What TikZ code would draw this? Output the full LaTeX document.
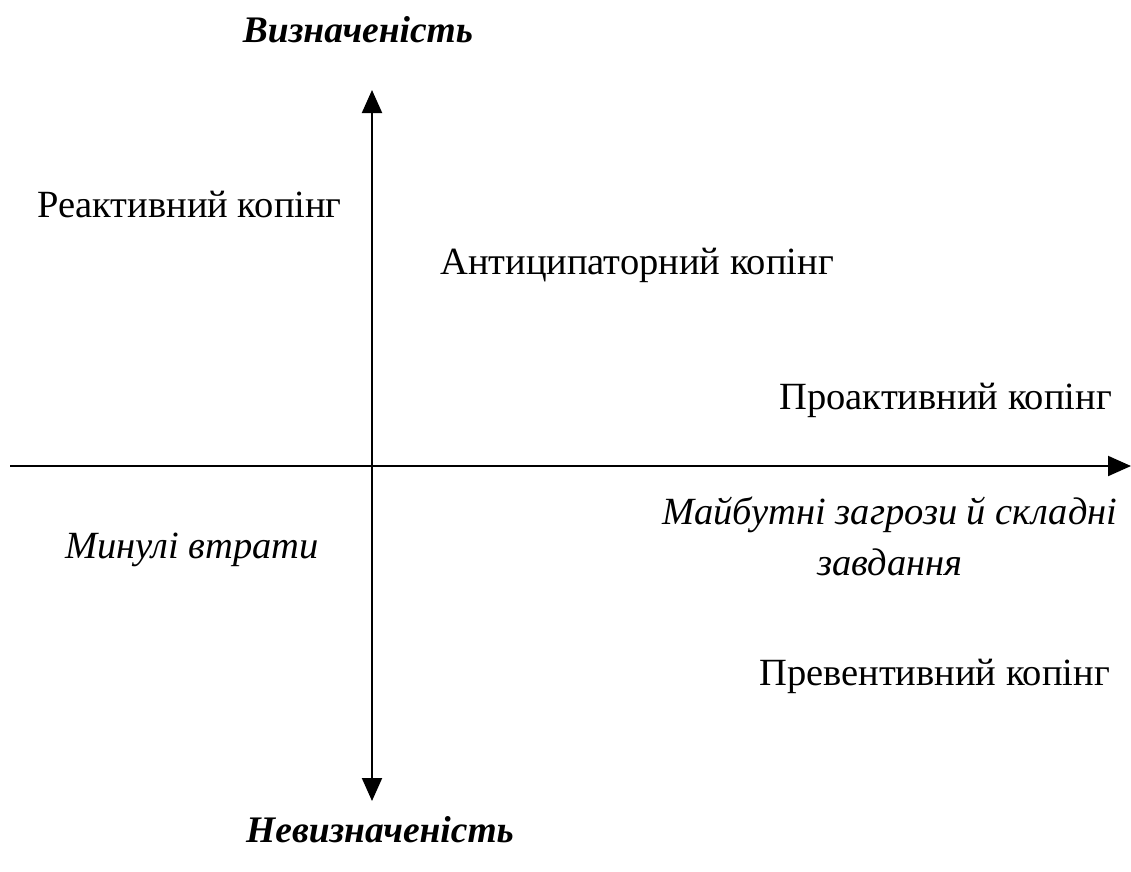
\documentclass[tikz,border=0pt]{standalone}
\usepackage{fontspec}
\setmainfont{Liberation Serif}
\usetikzlibrary{arrows.meta}
\begin{document}
\begin{tikzpicture}[x=1pt,y=-1pt,
  axis/.style={line width=2pt,-{Triangle[length=23pt,width=20pt]}},
  lbl/.style={inner sep=0pt,font=\fontsize{38.5}{46}\selectfont},
  ital/.style={lbl,font=\fontsize{38.5}{51}\selectfont\itshape},
  head/.style={inner sep=0pt,font=\fontsize{37.5}{44}\selectfont\bfseries\itshape}]
\useasboundingbox (0,0) rectangle (1131,871);
\coordinate (ctr) at (372,466);
\coordinate (top) at (372,90);
\coordinate (bot) at (372,801);
\coordinate (left) at (10,466);
\coordinate (right) at (1131,466);
\draw[axis] (ctr) -- (top);
\draw[axis] (ctr) -- (bot);
\draw[line width=2pt] (left) -- (ctr);
\draw[axis] (ctr) -- (right);
\node[head] (hTop) at (358,30) {Визначеність};
\node[head] (hBot) at (380,830) {Невизначеність};
\node[lbl,anchor=west] (react) at (37,205) {Реактивний копінг};
\node[lbl,anchor=west] (antic) at (440,265) {Антиципаторний копінг};
\node[lbl,anchor=east] (proact) at (1112,400) {Проактивний копінг};
\node[ital,anchor=west] (past) at (65,550) {Минулі втрати};
\node[ital,align=center] (future) at (890,536) {Майбутні загрози й складні\\завдання};
\node[lbl,anchor=east] (prev) at (1110,676) {Превентивний копінг};
\end{tikzpicture}
\end{document}
